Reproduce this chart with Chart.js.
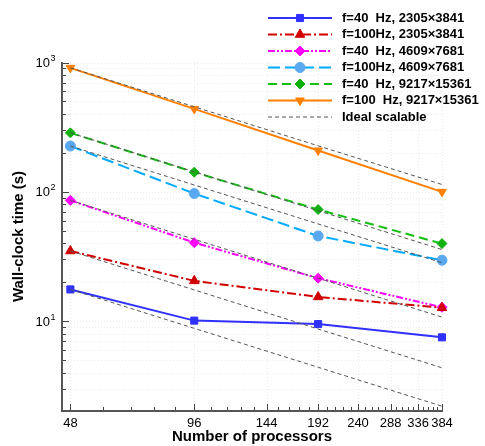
<!DOCTYPE html>
<html>
<head>
<meta charset="utf-8">
<script src="https://cdn.jsdelivr.net/npm/chart.js@4/dist/chart.umd.min.js"></script>
<style>
  html, body { margin: 0; padding: 0; background: #fff; }
</style>
</head>
<body>
<canvas id="chart" width="485" height="446"></canvas>
<script>
// processors on the x axis
const processors = [48, 96, 192, 384];
const xTicks = [48, 96, 144, 192, 240, 288, 336, 384];
const yTicks = [10, 100, 1000];
const yTickExp = ['1', '2', '3'];

// wall-clock time (s)
const f40_2305 = [17.6, 10.1, 9.5, 7.5];
const f100_2305 = [34.9, 20.5, 15.4, 12.7];
const f40_4609 = [86, 40.5, 21.5, 12.8];
const f100_4609 = [226, 97, 45.6, 29.6];
const f40_9217 = [286, 142, 73, 39.8];
const f100_9217 = [910, 438, 209, 100];

// ideal scalable lines, one per run
const ideal_f40_2305 = [17.6, 8.8, 4.4, 2.2];
const ideal_f100_2305 = [34.9, 17.45, 8.7, 4.36];
const ideal_f40_4609 = [86, 43, 21.5, 10.75];
const ideal_f100_4609 = [226, 113, 56.5, 28.3];
const ideal_f40_9217 = [286, 143, 71.5, 35.8];
const ideal_f100_9217 = [910, 455, 227, 114];

const seriesNames = [
  'f=40  Hz, 2305\u00d73841',
  'f=100Hz, 2305\u00d73841',
  'f=40  Hz, 4609\u00d77681',
  'f=100Hz, 4609\u00d77681',
  'f=40  Hz, 9217\u00d715361',
  'f=100  Hz, 9217\u00d715361'
];
const idealName = 'Ideal scalable';

const FONT = '"Liberation Sans", Arial, Helvetica, sans-serif';

const toPoints = arr => arr.map((v, i) => ({ x: processors[i], y: v }));

const seriesStyle = [
  { data: f40_2305, color: '#3030ff', point: '#3030ff', style: 'rect', radius: 5, rotation: 0, dash: [] },
  { data: f100_2305, color: '#d10000', point: '#d10000', style: 'triangle', radius: 5.5, rotation: 0, dash: [9, 3, 2, 3] },
  { data: f40_4609, color: '#ff00ff', point: '#ff00ff', style: 'rectRot', radius: 5, rotation: 0, dash: [7, 2, 2, 2, 2, 2] },
  { data: f100_4609, color: '#00aaff', point: '#5aa8f0', style: 'circle', radius: 5, rotation: 0, dash: [12, 5] },
  { data: f40_9217, color: '#11c011', point: '#11b011', style: 'rectRot', radius: 5, rotation: 0, dash: [9, 5] },
  { data: f100_9217, color: '#ff8000', point: '#ff8000', style: 'triangle', radius: 5, rotation: 180, dash: [] }
];
const idealData = [ideal_f40_2305, ideal_f100_2305, ideal_f40_4609, ideal_f100_4609, ideal_f40_9217, ideal_f100_9217];

const datasets = [];
idealData.forEach(arr => {
  datasets.push({
    label: idealName,
    data: toPoints(arr),
    borderColor: '#555',
    borderWidth: 1,
    borderDash: [4, 3],
    pointRadius: 0,
    order: 0,
    clip: false
  });
});
seriesStyle.forEach((s, i) => {
  datasets.push({
    label: seriesNames[i],
    data: toPoints(s.data),
    borderColor: s.color,
    borderWidth: 2,
    borderDash: s.dash,
    pointStyle: s.style,
    pointRadius: s.radius,
    pointRotation: s.rotation,
    pointBackgroundColor: s.point,
    pointBorderColor: s.point,
    pointBorderWidth: 1,
    order: 1,
    clip: false
  });
});

// minor tick values
const xMinor = [];
for (let i = 0; i < xTicks.length - 1; i++) {
  for (let k = 1; k < 5; k++) xMinor.push(xTicks[i] + 9.6 * k);
}
const yMinor = [];
[1, 10, 100].forEach(d => { for (let k = 2; k <= 9; k++) yMinor.push(d * k); });

const framePlugin = {
  id: 'frame',
  beforeDatasetsDraw(chart) {
    const { ctx, chartArea: a, scales: { x, y } } = chart;
    ctx.save();
    ctx.strokeStyle = '#ebebeb';
    ctx.lineWidth = 1;
    ctx.setLineDash([1, 2]);
    xTicks.forEach(v => {
      const px = Math.round(x.getPixelForValue(v)) + 0.5;
      ctx.beginPath(); ctx.moveTo(px, a.top); ctx.lineTo(px, a.bottom); ctx.stroke();
    });
    yTicks.concat(yMinor).forEach(v => {
      if (v < y.min || v > y.max) return;
      const py = Math.round(y.getPixelForValue(v)) + 0.5;
      ctx.beginPath(); ctx.moveTo(a.left, py); ctx.lineTo(a.right, py); ctx.stroke();
    });
    ctx.restore();
  },
  afterDatasetsDraw(chart) {
    const { ctx, chartArea: a, scales: { x, y } } = chart;
    ctx.save();
    ctx.strokeStyle = '#444';
    ctx.lineWidth = 1;
    ctx.setLineDash([]);
    // y ticks pointing inwards
    yTicks.forEach(v => {
      const py = Math.round(y.getPixelForValue(v)) + 0.5;
      ctx.beginPath(); ctx.moveTo(a.left, py); ctx.lineTo(a.left + 7, py); ctx.stroke();
    });
    yMinor.forEach(v => {
      if (v < y.min || v > y.max) return;
      const py = Math.round(y.getPixelForValue(v)) + 0.5;
      ctx.beginPath(); ctx.moveTo(a.left, py); ctx.lineTo(a.left + 4, py); ctx.stroke();
    });
    xTicks.forEach(v => {
      const px = Math.round(x.getPixelForValue(v)) + 0.5;
      ctx.beginPath(); ctx.moveTo(px, a.bottom); ctx.lineTo(px, a.bottom - 7); ctx.stroke();
    });
    xMinor.forEach(v => {
      const px = Math.round(x.getPixelForValue(v)) + 0.5;
      ctx.beginPath(); ctx.moveTo(px, a.bottom); ctx.lineTo(px, a.bottom - 4); ctx.stroke();
    });
    // axis lines
    ctx.lineWidth = 2;
    ctx.strokeStyle = '#555';
    ctx.beginPath();
    ctx.moveTo(a.left, a.top);
    ctx.lineTo(a.left, a.bottom);
    ctx.lineTo(a.right + 1, a.bottom);
    ctx.stroke();
    // y tick labels: 10 with a raised exponent
    ctx.fillStyle = '#000';
    ctx.textBaseline = 'middle';
    yTicks.forEach((v, i) => {
      const py = y.getPixelForValue(v);
      ctx.font = '13px ' + FONT;
      ctx.textAlign = 'right';
      ctx.fillText('10', 50, py + 1);
      ctx.font = '9px ' + FONT;
      ctx.textAlign = 'left';
      ctx.fillText(yTickExp[i], 50.5, py - 4);
    });
    ctx.restore();
  }
};

// legend: line sample + marker + text, drawn at the top right
const legendPlugin = {
  id: 'lineLegend',
  afterDraw(chart) {
    const { ctx } = chart;
    const x0 = 268, x1 = 332, tx = 342, y0 = 18, step = 16.5;
    ctx.save();
    ctx.font = 'bold 13px ' + FONT;
    ctx.textBaseline = 'middle';
    ctx.textAlign = 'left';
    seriesStyle.forEach((s, i) => {
      const yy = y0 + i * step;
      ctx.strokeStyle = s.color;
      ctx.lineWidth = 2;
      ctx.setLineDash(s.dash);
      ctx.beginPath(); ctx.moveTo(x0, yy); ctx.lineTo(x1, yy); ctx.stroke();
      ctx.setLineDash([]);
      ctx.fillStyle = s.point;
      ctx.strokeStyle = s.point;
      ctx.lineWidth = 1;
      Chart.helpers.drawPoint(ctx, { pointStyle: s.style, radius: s.radius, rotation: s.rotation, borderWidth: 1 }, (x0 + x1) / 2, yy);
      ctx.fillStyle = '#000';
      ctx.fillText(seriesNames[i], tx, yy);
    });
    const yy = y0 + 6 * step;
    ctx.strokeStyle = '#555';
    ctx.lineWidth = 1;
    ctx.setLineDash([4, 3]);
    ctx.beginPath(); ctx.moveTo(x0, yy); ctx.lineTo(x1, yy); ctx.stroke();
    ctx.setLineDash([]);
    ctx.fillStyle = '#000';
    ctx.fillText(idealName, tx, yy);
    ctx.restore();
  }
};

new Chart(document.getElementById('chart'), {
  type: 'line',
  data: { datasets },
  plugins: [framePlugin, legendPlugin],
  options: {
    responsive: false,
    animation: false,
    layout: { padding: { top: 62, right: 43, left: 0, bottom: 0 } },
    plugins: { legend: { display: false }, tooltip: { enabled: false } },
    elements: { line: { tension: 0 } },
    scales: {
      x: {
        type: 'logarithmic',
        min: 45.8,
        max: 384,
        border: { display: false },
        grid: { display: false, drawTicks: false },
        afterBuildTicks: scale => { scale.ticks = xTicks.map(v => ({ value: v })); },
        afterFit: scale => { scale.height = 35; },
        ticks: {
          autoSkip: false,
          maxRotation: 0,
          padding: 5,
          color: '#000',
          font: { family: FONT, size: 13 },
          callback: v => String(v)
        },
        title: {
          display: true,
          text: 'Number of processors',
          color: '#000',
          font: { family: FONT, size: 15, weight: 'bold' },
          padding: 0
        }
      },
      y: {
        type: 'logarithmic',
        min: 2.02,
        max: 1010,
        border: { display: false },
        grid: { display: false, drawTicks: false },
        afterBuildTicks: scale => { scale.ticks = yTicks.map(v => ({ value: v })); },
        afterFit: scale => { scale.width = 62; },
        ticks: { display: false },
        title: {
          display: true,
          text: 'Wall-clock time (s)',
          color: '#000',
          font: { family: FONT, size: 15, weight: 'bold' },
          padding: { top: 10, bottom: 0 }
        }
      }
    }
  }
});
</script>
</body>
</html>
